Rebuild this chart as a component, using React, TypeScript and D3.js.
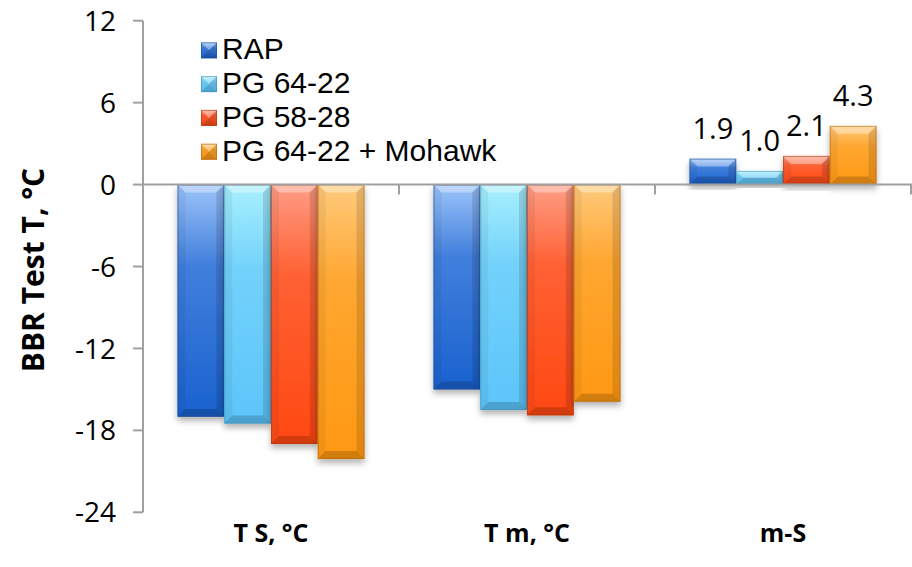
import React from "react";
import * as d3 from "d3";

const categories = ["T S, °C", "T m, °C", "m-S"];
const seriesNames = ["RAP", "PG 64-22", "PG 58-28", "PG 64-22 + Mohawk"];
const rapValues = [-17.0, -15.0, 1.9];
const pg6422Values = [-17.5, -16.5, 1.0];
const pg5828Values = [-19.0, -16.9, 2.1];
const mohawkValues = [-20.1, -15.9, 4.3];
const yTicks = [-24, -18, -12, -6, 0, 6, 12];
const labelledCategory = "m-S";

const seriesValues = [rapValues, pg6422Values, pg5828Values, mohawkValues];
const palette = [
  { light: "#9cc3fa", dark: "#1a62cf", border: "#1d4e9a" },
  { light: "#a8f0fd", dark: "#5cc5fa", border: "#3a8fc0" },
  { light: "#ff9c84", dark: "#ff4812", border: "#b03a10" },
  { light: "#ffca7c", dark: "#ff9812", border: "#b06a10" },
];

const W = 912;
const H = 567;
const FONT = "'Open Sans', 'DejaVu Sans', sans-serif";
const LEGEND_FONT = "'Liberation Sans', Arial, sans-serif";

function Bevel({ x, y, w, h, i, shadow }: any) {
  const b = Math.max(0, Math.min(8, h / 2, w / 2));
  const c = palette[i];
  return (
    <g filter={shadow ? "url(#shadow)" : undefined}>
      <rect x={x} y={y} width={w} height={h} fill={`url(#grad${i})`} />
      <polygon
        points={`${x},${y} ${x + w},${y} ${x + w - b},${y + b} ${x + b},${y + b}`}
        fill="#ffffff"
        opacity={0.35}
      />
      <polygon
        points={`${x},${y} ${x + b},${y + b} ${x + b},${y + h - b} ${x},${y + h}`}
        fill="#000000"
        opacity={0.05}
      />
      <polygon
        points={`${x + w},${y} ${x + w - b},${y + b} ${x + w - b},${y + h - b} ${x + w},${y + h}`}
        fill="#000000"
        opacity={0.12}
      />
      <polygon
        points={`${x},${y + h} ${x + b},${y + h - b} ${x + w - b},${y + h - b} ${x + w},${y + h}`}
        fill="#000000"
        opacity={0.18}
      />
      <rect x={x + 0.5} y={y + 0.5} width={Math.max(0, w - 1)} height={Math.max(0, h - 1)} fill="none" stroke={c.border} strokeOpacity={0.6} strokeWidth={1} />
    </g>
  );
}

export default function App() {
  const left = 143;
  const right = 911;
  const top = 20.7;
  const bottom = 512.3;

  const y = d3.scaleLinear().domain([-24, 12]).range([bottom, top]);
  const x0 = d3.scaleBand<string>().domain(categories).range([left, right]).padding(0);
  const inset = 34.5;
  const x1 = d3
    .scaleBand<string>()
    .domain(seriesNames)
    .range([inset, x0.bandwidth() - inset])
    .padding(0);

  const y0 = y(0);

  return (
    <svg
      width={W}
      height={H}
      style={{ position: "absolute", left: 0, top: 0, display: "block", background: "#ffffff" }}
    >
      <defs>
        {palette.map((c, i) => (
          <linearGradient key={i} id={`grad${i}`} x1="0" y1="0" x2="0" y2="1">
            <stop offset="0" stopColor={c.light} />
            <stop offset="0.35" stopColor={d3.interpolateRgb(c.light, c.dark)(0.7)} />
            <stop offset="1" stopColor={c.dark} />
          </linearGradient>
        ))}
        <filter id="shadow" x="-20%" y="-20%" width="140%" height="140%">
          <feDropShadow dx="0" dy="4" stdDeviation="3" floodColor="#000000" floodOpacity="0.3" />
        </filter>
      </defs>
      <rect x={0} y={0} width={W} height={H} fill="#ffffff" />

      {/* bars */}
      {categories.map((cat, ci) => (
        <g key={cat}>
          {seriesNames.map((s, si) => {
            const v = seriesValues[si][ci];
            const bx = (x0(cat) as number) + (x1(s) as number);
            const bw = x1.bandwidth();
            const by = Math.min(y(v), y0);
            const bh = Math.abs(y(v) - y0);
            return <Bevel key={s} x={bx} y={by} w={bw} h={bh} i={si} shadow />;
          })}
        </g>
      ))}

      {/* axes */}
      <line x1={left} x2={left} y1={top} y2={bottom} stroke="#a0a0a0" strokeWidth={2} />
      {yTicks.map((t) => (
        <g key={t}>
          <line x1={left - 10} x2={left} y1={y(t)} y2={y(t)} stroke="#a0a0a0" strokeWidth={2} />
          <text
            x={116}
            y={y(t)}
            dy="0.36em"
            textAnchor="end"
            fontFamily={FONT}
            fontSize={28}
            fill="#000000"
          >
            {t}
          </text>
        </g>
      ))}
      <line x1={left} x2={right + 2} y1={y0} y2={y0} stroke="#a0a0a0" strokeWidth={2} />
      {categories.map((cat) => {
        const xb = (x0(cat) as number) + x0.bandwidth();
        return <line key={cat} x1={xb} x2={xb} y1={y0} y2={y0 + 10} stroke="#a0a0a0" strokeWidth={2} />;
      })}

      {/* data labels */}
      {seriesNames.map((s, si) => {
        const ci = categories.indexOf(labelledCategory);
        const v = seriesValues[si][ci];
        const cx = (x0(labelledCategory) as number) + (x1(s) as number) + x1.bandwidth() / 2;
        return (
          <text
            key={s}
            x={cx}
            y={y(v) - 20}
            textAnchor="middle"
            fontFamily={FONT}
            fontSize={29}
            fill="#000000"
          >
            {v.toFixed(1)}
          </text>
        );
      })}

      {/* category labels */}
      {categories.map((cat) => (
        <text
          key={cat}
          x={(x0(cat) as number) + x0.bandwidth() / 2}
          y={542}
          textAnchor="middle"
          fontFamily={FONT}
          fontWeight="bold"
          fontSize={25}
          fill="#000000"
        >
          {cat}
        </text>
      ))}

      {/* y axis title */}
      <text
        transform={`translate(44, 270) rotate(-90)`}
        textAnchor="middle"
        fontFamily={FONT}
        fontWeight="bold"
        fontSize={30}
        fill="#000000"
      >
        BBR Test T, °C
      </text>

      {/* legend */}
      {seriesNames.map((s, si) => {
        const baseline = 59.3 + si * 33.8;
        return (
          <g key={s}>
            <Bevel x={201} y={baseline - 17} w={16} h={16} i={si} shadow={false} />
            <text x={222} y={baseline} fontFamily={LEGEND_FONT} fontSize={30} fill="#000000">
              {s}
            </text>
          </g>
        );
      })}
    </svg>
  );
}
